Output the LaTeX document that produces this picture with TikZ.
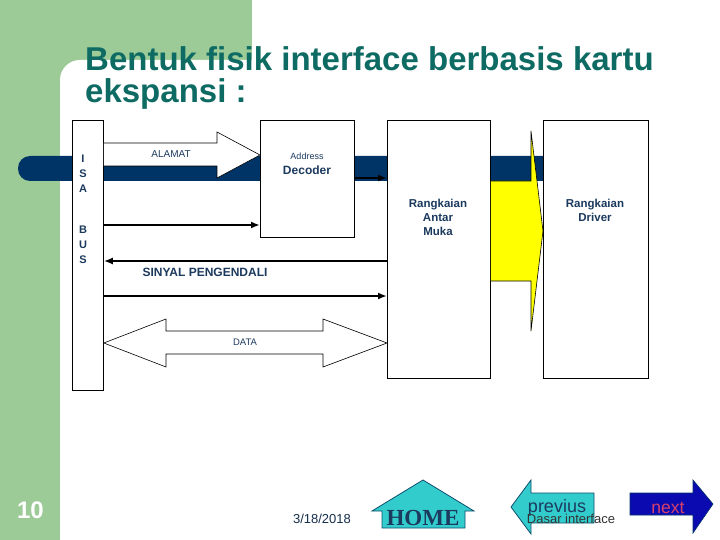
\documentclass[tikz,border=0pt]{standalone}
\usepackage{fontspec}
\setmainfont{Liberation Sans}
\newfontfamily\homefont{Liberation Serif}
\usetikzlibrary{arrows.meta}
\definecolor{greenbg}{HTML}{9CCB98}
\definecolor{navybar}{HTML}{003366}
\definecolor{titlecol}{HTML}{0E6B63}
\definecolor{labcol}{HTML}{1C3A5E}
\definecolor{cyanbtn}{HTML}{33CCCC}
\definecolor{btnedge}{HTML}{0E4E6E}
\definecolor{nextblue}{HTML}{0A0AB0}
\definecolor{nextred}{HTML}{D8406A}
\definecolor{yelarrow}{HTML}{FFFF00}
\begin{document}
\begin{tikzpicture}[x=1pt,y=-1pt,
  box/.style={draw=black, fill=white, line width=0.8pt, inner sep=0pt},
  lab/.style={text=labcol, inner sep=0pt, align=center},
  fatarrow/.style={line width=2.6pt, -{Latex[length=9pt,width=7pt]}},
  shapeline/.style={draw=black, line width=0.6pt, fill=white},
  btn/.style={draw=btnedge, line width=0.8pt, fill=cyanbtn}]
\useasboundingbox (0,0) rectangle (720,540);
% background
\fill[white] (0,0) rectangle (720,540);
\fill[greenbg] (0,0) rectangle (252,100);
\fill[greenbg] (0,0) rectangle (60,540);
\fill[white, rounded corners=20pt] (60,560) -- (60,60) -- (740,60) -- (740,560) -- cycle;
% title
\node[anchor=base west, inner sep=0pt, text=titlecol, font=\fontsize{33}{37}\selectfont\bfseries] (title1) at (85,71) {Bentuk fisik interface berbasis kartu};
\node[anchor=base west, inner sep=0pt, text=titlecol, font=\fontsize{33}{37}\selectfont\bfseries] (title2) at (85,103) {ekspansi :};
% bus bar
\fill[navybar, rounded corners=12pt] (18,156) rectangle (560,181);
% boxes
\node[box, anchor=north west, minimum width=31pt, minimum height=270pt] (isa) at (72,120) {};
\node[box, anchor=north west, minimum width=94pt, minimum height=117pt] (dec) at (260,120) {};
\node[box, anchor=north west, minimum width=103pt, minimum height=258pt] (arm) at (387,120) {};
\node[box, anchor=north west, minimum width=105pt, minimum height=258pt] (drv) at (543,120) {};
% ISA BUS letters
\node[lab, font=\fontsize{11}{14}\selectfont\bfseries] (isatxt) at (83,174) {I\\[1pt]S\\[1pt]A};
\node[lab, font=\fontsize{11}{14}\selectfont\bfseries] (bustxt) at (83,245) {B\\[1pt]U\\[1pt]S};
% ALAMAT arrow
\draw[shapeline] (isa.east |- 0,143) -- (217,143) -- (217,132) -- (dec.west |- 0,155) -- (217,178) -- (217,166) -- (isa.east |- 0,166);
\node[lab, font=\fontsize{10}{12}\selectfont] (alamat) at (171,154) {ALAMAT};
% decoder text
\node[lab, font=\fontsize{9}{11}\selectfont] (addr) at (307,156) {Address};
\node[lab, font=\fontsize{12}{14}\selectfont\bfseries] (decod) at (307,170) {Decoder};
% Rangkaian texts
\node[lab, font=\fontsize{11.5}{14}\selectfont\bfseries] (armtxt) at (438,217) {Rangkaian\\Antar\\Muka};
\node[lab, font=\fontsize{11.5}{14}\selectfont\bfseries] (drvtxt) at (595,210) {Rangkaian\\Driver};
% yellow arrow
\draw[draw=black, line width=0.6pt, fill=yelarrow] (arm.east |- 0,181) -- (531,181) -- (531,131) -- (drv.west |- 0,231) -- (531,331) -- (531,281) -- (arm.east |- 0,281);
% fat arrows
\coordinate (ya) at (0,178);
\coordinate (yb) at (0,225);
\coordinate (yc) at (0,261);
\coordinate (yd) at (0,296);
\draw[fatarrow] (dec.east |- ya) -- (arm.west |- ya);
\draw[fatarrow] (isa.east |- yb) -- (dec.west |- yb);
\draw[fatarrow] (arm.west |- yc) -- (isa.east |- yc);
\draw[fatarrow] (isa.east |- yd) -- (arm.west |- yd);
\node[lab, font=\fontsize{12}{14}\selectfont\bfseries] (sinyal) at (205,272) {SINYAL PENGENDALI};
% DATA double arrow
\draw[shapeline] (isa.east |- 0,343) -- (166,319) -- (166,331) -- (323,331) -- (323,319) -- (arm.west |- 0,343) -- (323,367) -- (323,354) -- (166,354) -- (166,367) -- cycle;
\node[lab, font=\fontsize{9.5}{12}\selectfont] (data) at (245,342) {DATA};
% footer
\node[inner sep=0pt, text=white, font=\fontsize{24}{26}\selectfont\bfseries] (pagenum) at (30.5,510) {10};
\node[inner sep=0pt, text=labcol!80!black, font=\fontsize{13}{15}\selectfont] (date) at (322,519) {3/18/2018};
\draw[btn] (372,511) -- (423,480) -- (474,511) -- (465,511) -- (465,528) -- (382,528) -- (382,511) -- cycle;
\node[inner sep=0pt, text=labcol, font=\homefont\fontsize{23}{25}\selectfont\bfseries] (home) at (423,518) {HOME};
\draw[btn] (511,507) -- (531,480) -- (531,493) -- (594,493) -- (594,523) -- (531,523) -- (531,534) -- cycle;
\node[inner sep=0pt, text=labcol, font=\fontsize{18}{20}\selectfont] (prev) at (557,508) {previus};
\node[inner sep=0pt, text=black!80, font=\fontsize{13}{15}\selectfont] (dasar) at (571,519) {Dasar interface};
\draw[draw=navybar, line width=0.6pt, fill=nextblue] (630,493) -- (693,493) -- (693,480) -- (713,504) -- (693,533) -- (693,515) -- (630,515) -- cycle;
\node[inner sep=0pt, text=nextred, font=\fontsize{17.5}{20}\selectfont] (next) at (668,508) {next};
\end{tikzpicture}
\end{document}
